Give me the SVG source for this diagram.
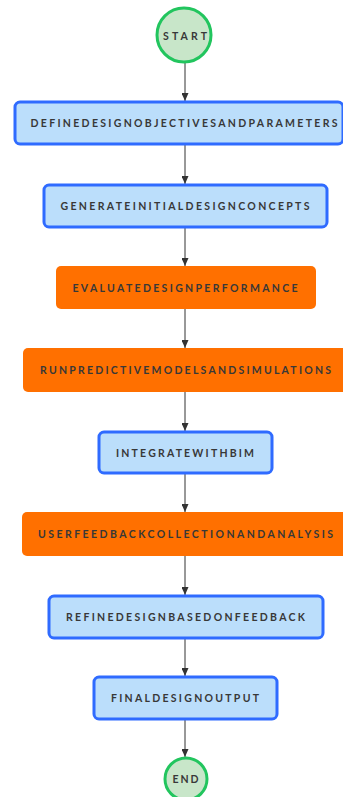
<svg xmlns="http://www.w3.org/2000/svg" width="343" height="797" viewBox="0 0 343 797">
  <style>
    .bg { fill: #ffffff; }
    .term { fill: #c8e6c9; stroke: #22c55e; stroke-width: 3; }
    .proc { fill: #bbdefb; stroke: #2f6bff; stroke-width: 3; }
    .hot { fill: #ff7000; }
    .lbl { font-family: Lato, "Open Sans", "DejaVu Sans", sans-serif; font-weight: 700; font-size: 10.5px; fill: #383838; text-anchor: middle; dominant-baseline: central; }
    .edge { stroke: #333333; stroke-width: 1; fill: none; marker-end: url(#arrow); }
  </style>
  <defs>
    <marker id="arrow" viewBox="0 0 8 7" refX="8" refY="3.5" markerWidth="8" markerHeight="7" markerUnits="userSpaceOnUse" orient="auto">
      <path d="M0,0 L8,3.5 L0,7 Z" fill="#333333"/>
    </marker>
  </defs>
  <rect class="bg" x="0" y="0" width="343" height="797"/>

  <g id="connectors">
    <line class="edge" x1="185" y1="63" x2="185" y2="101"/>
    <line class="edge" x1="185" y1="145" x2="185" y2="184"/>
    <line class="edge" x1="185" y1="228" x2="185" y2="266"/>
    <line class="edge" x1="185" y1="309" x2="185" y2="348"/>
    <line class="edge" x1="185" y1="392" x2="185" y2="431"/>
    <line class="edge" x1="185" y1="474" x2="185" y2="512"/>
    <line class="edge" x1="185" y1="556" x2="185" y2="595"/>
    <line class="edge" x1="185" y1="639" x2="185" y2="676"/>
    <line class="edge" x1="185" y1="720" x2="185" y2="757"/>
  </g>

  <g id="start">
    <circle class="term" cx="184" cy="35" r="27"/>
    <text class="lbl" x="185" y="36" textLength="44" lengthAdjust="spacing">START</text>
  </g>

  <g id="define">
    <rect class="proc" x="15" y="102" width="328" height="42" rx="5"/>
    <text class="lbl" x="184" y="123" textLength="307" lengthAdjust="spacing">DEFINEDESIGNOBJECTIVESANDPARAMETERS</text>
  </g>

  <g id="generate">
    <rect class="proc" x="44" y="185" width="283" height="42" rx="5"/>
    <text class="lbl" x="185" y="206" textLength="249" lengthAdjust="spacing">GENERATEINITIALDESIGNCONCEPTS</text>
  </g>

  <g id="evaluate">
    <rect class="hot" x="56" y="266" width="260" height="43" rx="5"/>
    <text class="lbl" x="185" y="287.5" textLength="225" lengthAdjust="spacing">EVALUATEDESIGNPERFORMANCE</text>
  </g>

  <g id="simulate">
    <rect class="hot" x="23" y="348" width="330" height="44" rx="5"/>
    <text class="lbl" x="185.5" y="370" textLength="291" lengthAdjust="spacing">RUNPREDICTIVEMODELSANDSIMULATIONS</text>
  </g>

  <g id="bim">
    <rect class="proc" x="99" y="432" width="173" height="41" rx="5"/>
    <text class="lbl" x="185" y="452.5" textLength="138" lengthAdjust="spacing">INTEGRATEWITHBIM</text>
  </g>

  <g id="feedback">
    <rect class="hot" x="22" y="512" width="331" height="44" rx="5"/>
    <text class="lbl" x="185.5" y="534" textLength="295" lengthAdjust="spacing">USERFEEDBACKCOLLECTIONANDANALYSIS</text>
  </g>

  <g id="refine">
    <rect class="proc" x="49" y="596" width="274" height="42" rx="5"/>
    <text class="lbl" x="185.5" y="617" textLength="239" lengthAdjust="spacing">REFINEDESIGNBASEDONFEEDBACK</text>
  </g>

  <g id="output">
    <rect class="proc" x="94" y="677" width="183" height="42" rx="5"/>
    <text class="lbl" x="185" y="698" textLength="148" lengthAdjust="spacing">FINALDESIGNOUTPUT</text>
  </g>

  <g id="end">
    <circle class="term" cx="186" cy="779" r="21"/>
    <text class="lbl" x="185.5" y="779" textLength="26" lengthAdjust="spacing">END</text>
  </g>
</svg>
